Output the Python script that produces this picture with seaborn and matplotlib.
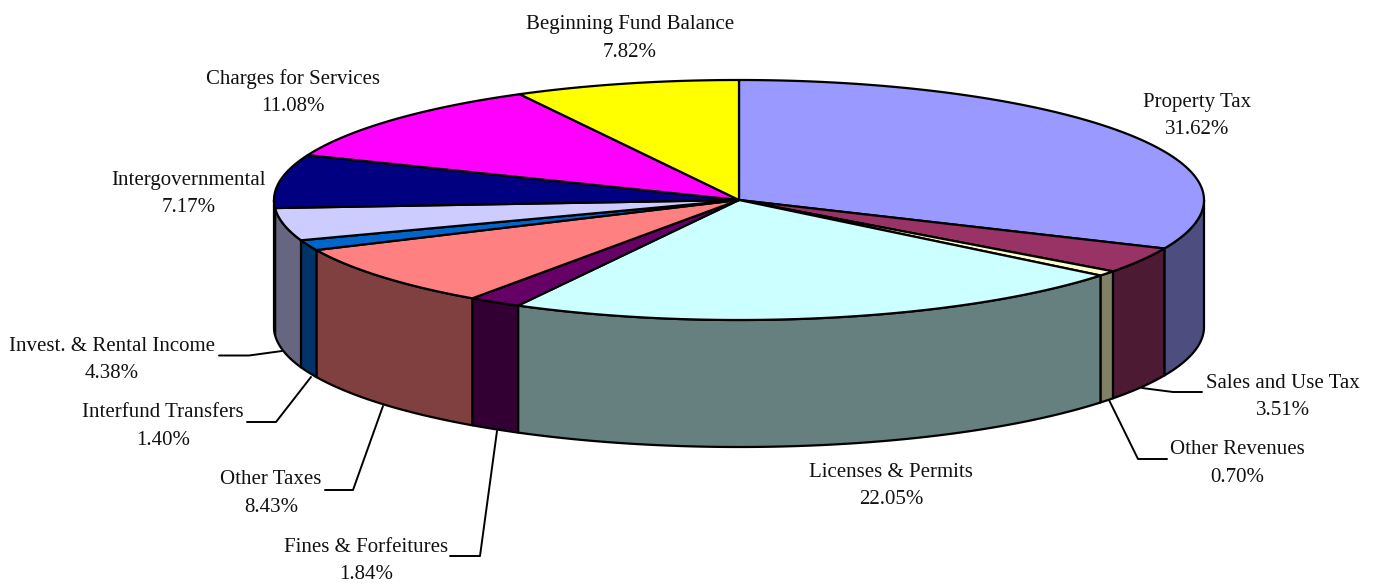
"""
Revenue by source, drawn as a tilted 3D pie
"""
import numpy as np
import matplotlib.pyplot as plt
import seaborn as sns

# Data, clockwise from the top of the pie
categories = ['Property Tax', 'Sales and Use Tax', 'Other Revenues', 'Licenses & Permits',
              'Fines & Forfeitures', 'Other Taxes', 'Interfund Transfers',
              'Invest. & Rental Income', 'Intergovernmental', 'Charges for Services',
              'Beginning Fund Balance']
shares = [31.62, 3.51, 0.70, 22.05, 1.84, 8.43, 1.40, 4.38, 7.17, 11.08, 7.82]

# Styles
slice_colors = ['#9999FF', '#993366', '#FFFFCC', '#CCFFFF', '#660066', '#FF8080',
                '#0066CC', '#CCCCFF', '#000080', '#FF00FF', '#FFFF00']

# Label centres in picture pixels
label_x = [1197, 1283, 1237, 891, 366, 271, 163, 112, 189, 293, 630]
label_y = [116, 397, 463.5, 486, 561, 493.5, 426.5, 360, 194, 92.5, 38.5]

# Leader lines in picture pixels, by category
leaders = {
    'Sales and Use Tax': [(1202, 392), (1173, 392), (1142, 388)],
    'Other Revenues': [(1167, 459), (1138, 459), (1109, 400)],
    'Fines & Forfeitures': [(450, 556), (480, 556), (497, 431)],
    'Other Taxes': [(325, 490), (353, 490), (383, 406)],
    'Interfund Transfers': [(247, 422), (276, 422), (311, 377)],
    'Invest. & Rental Income': [(219, 355.5), (249, 355.5), (282, 351)],
}

# Pie geometry in picture pixels
CX, CY = 739, 200
RX, RY = 465, 120
DEPTH = 127
LINE_W = 1.6

sns.set_theme(style="white")
plt.rcParams['font.family'] = ['Liberation Serif', 'DejaVu Serif']


def rim(a0, a1, drop=0):
    """Points along the rim between two angles (degrees clockwise from top)"""
    t = np.radians(np.linspace(a0, a1, max(int(abs(a1 - a0) * 2), 2)))
    return CX + RX * np.sin(t), CY - RY * np.cos(t) + drop


def draw_side(ax, a0, a1, color):
    """Draw the visible wall of a slice, only the front half of the pie has one"""
    a0, a1 = max(a0, 90), min(a1, 270)
    if a1 <= a0:
        return
    x, y = rim(a0, a1)
    xb, yb = rim(a1, a0, DEPTH)
    ax.fill(np.r_[x, xb], np.r_[y, yb], facecolor=color, edgecolor='black',
            linewidth=LINE_W, joinstyle='round', zorder=2)


def draw_top(ax, a0, a1, color):
    """Draw the top face of a slice"""
    x, y = rim(a0, a1)
    ax.fill(np.r_[CX, x], np.r_[CY, y], facecolor=color, edgecolor='black',
            linewidth=LINE_W, joinstyle='round', zorder=3)


def main():
    fig, ax = plt.subplots(figsize=(13.81, 5.86), dpi=100)
    fig.subplots_adjust(0, 0, 1, 1)
    ax.set_xlim(0, 1381)
    ax.set_ylim(586, 0)
    ax.axis('off')

    palette = sns.color_palette(slice_colors)
    edges = np.r_[0, np.cumsum(shares)] / np.sum(shares) * 360

    # Walls are the same colours at half brightness
    for i, color in enumerate(palette):
        draw_side(ax, edges[i], edges[i + 1], tuple(c * 0.5 for c in color))
    for i, color in enumerate(palette):
        draw_top(ax, edges[i], edges[i + 1], color)

    for name, pts in leaders.items():
        xs, ys = zip(*pts)
        ax.plot(xs, ys, color='black', linewidth=1.4, zorder=4)

    for name, value, x, y in zip(categories, shares, label_x, label_y):
        ax.text(x, y, f"{name}\n{value:.2f}%", ha='center', va='center',
                fontsize=15, color='#111111', linespacing=1.6, zorder=5)

    fig.savefig('out.png', dpi=100)


if __name__ == "__main__":
    main()
